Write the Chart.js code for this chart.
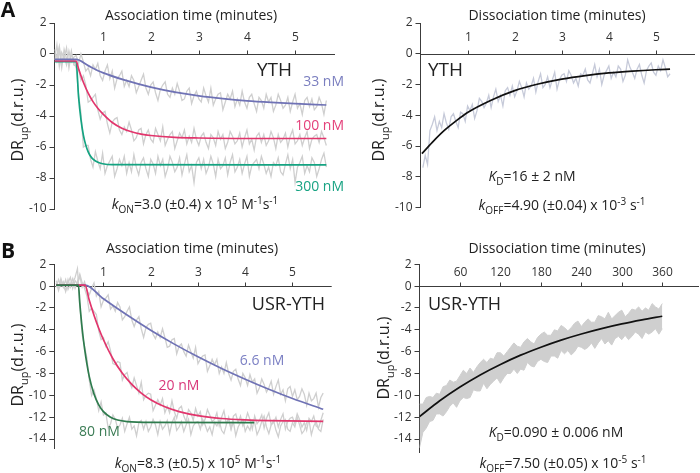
<!DOCTYPE html>
<html><head><meta charset="utf-8">
<script src="https://cdn.jsdelivr.net/npm/chart.js@4.4.1/dist/chart.umd.min.js"></script>
<style>
html,body{margin:0;padding:0;background:#fff;}
#wrap{position:relative;width:700px;height:473px;overflow:hidden;background:#fff;}
#wrap canvas{position:absolute;left:0;top:0;width:700px;height:473px;}
</style></head><body>
<div id="wrap">
<canvas id="cAL" width="700" height="473"></canvas>
<canvas id="cAR" width="700" height="473"></canvas>
<canvas id="cBL" width="700" height="473"></canvas>
<canvas id="cBR" width="700" height="473"></canvas>
</div>
<script>
// ---------------- DATA ----------------
// sampling interval of the recorded traces (minutes)
const assocStep = 0.05;
const dissocStartA = 0.05;
const bandStep = 5;

// Panel A, association (YTH) raw traces, t = 0, 0.05, ... 5.65 min
const aTrace33 = [
0.3,-0.2,0.5,-0.6,-0.1,-0.7,0.2,-0.5,-0.2,
-0.1,-0.6,0.0,-0.5,-1.1,-0.9,-1.4,-0.7,-1.0,-0.6,
-1.4,-1.7,-1.1,-0.7,-1.6,-1.1,-2.2,-1.6,-1.4,-1.1,
-2.1,-1.7,-2.1,-1.4,-1.7,-2.5,-2.1,-1.7,-1.3,-2.2,
-2.6,-2.0,-1.8,-2.5,-3.0,-2.3,-2.0,-1.8,-2.6,-2.8,
-2.2,-2.6,-1.9,-2.4,-3.0,-2.9,-2.4,-2.2,-3.2,-2.7,
-2.4,-2.9,-3.1,-2.2,-2.7,-3.1,-2.2,-3.3,-2.9,-2.6,
-2.5,-3.6,-3.1,-2.6,-2.9,-2.4,-3.4,-2.9,-3.3,-2.4,
-3.1,-3.5,-2.8,-2.6,-3.2,-3.7,-2.8,-3.0,-3.5,-2.6,
-3.1,-2.8,-3.7,-3.3,-2.6,-3.0,-3.5,-3.3,-2.8,-3.7,
-3.1,-2.6,-3.5,-3.2,-3.9,-3.0,-2.8,-3.4,-2.9,-3.6,
-3.4,-2.8,-3.2,-3.9,-3.0];
const aTrace100 = [
-0.4,0.6,-0.8,0.1,-0.3,0.4,-0.9,0.0,-0.4,
-0.9,-1.0,-1.7,-1.4,-2.0,-3.1,-3.0,-2.8,-2.6,-3.6,
-4.2,-3.8,-3.7,-4.5,-5.1,-4.4,-4.2,-4.1,-4.9,-5.2,
-4.7,-5.0,-4.4,-4.9,-5.6,-5.4,-4.9,-4.8,-5.8,-5.2,
-4.9,-5.5,-5.7,-4.8,-5.2,-5.6,-4.7,-5.9,-5.5,-5.2,
-5.0,-6.1,-5.6,-5.1,-5.4,-4.9,-5.8,-5.3,-5.7,-4.8,
-5.5,-5.9,-5.3,-5.1,-5.7,-6.1,-5.2,-5.4,-5.9,-5.0,
-5.5,-5.2,-6.1,-5.7,-5.0,-5.3,-5.8,-5.6,-5.1,-6.0,
-5.4,-4.9,-5.8,-5.5,-6.2,-5.3,-5.1,-5.7,-5.2,-5.9,
-5.6,-5.0,-5.4,-6.1,-5.2,-5.7,-5.5,-5.1,-6.0,-5.3,
-4.9,-5.8,-5.6,-5.2,-5.9,-5.4,-5.0,-6.1,-5.5,-5.3,
-5.2,-5.7,-5.0,-5.4,-5.9];
const aTrace300 = [
0.1,-0.5,0.2,-0.9,0.3,-0.3,-0.6,0.2,-0.7,
-0.8,-2.6,-3.8,-6.0,-5.9,-5.9,-6.8,-7.3,-6.3,-6.9,
-7.4,-6.4,-7.7,-7.2,-6.9,-6.6,-7.9,-7.4,-6.8,-7.2,
-6.6,-7.7,-7.0,-7.6,-6.5,-7.3,-7.8,-7.0,-6.7,-7.4,
-7.9,-6.8,-7.1,-7.7,-6.6,-7.2,-6.8,-7.9,-7.4,-6.6,
-7.0,-7.6,-7.3,-6.7,-7.8,-7.1,-6.5,-7.6,-7.2,-8.3,
-7.0,-6.7,-7.4,-6.8,-7.7,-7.3,-6.6,-7.1,-7.9,-6.8,
-7.4,-7.2,-6.7,-7.8,-7.0,-6.5,-7.6,-7.3,-6.8,-7.7,
-7.1,-6.6,-7.9,-7.2,-7.0,-6.8,-7.4,-6.6,-7.1,-7.7,
-7.3,-7.9,-7.0,-7.2,-6.7,-7.6,-7.8,-7.1,-6.5,-7.4,
-6.8,-8.3,-7.3,-7.0,-6.6,-7.7,-7.2,-7.6,-6.7,-7.0,
-7.9,-7.4,-6.8,-6.4,-7.3];
// Panel A association fits [t(min), DR]
const aFit33 = [[0,-0.35],[0.45,-0.35],[0.7,-0.75],[1,-1.2],[1.5,-1.72],[2,-2.14],[2.5,-2.46],[3,-2.7],[3.5,-2.88],[4,-3.02],[4.5,-3.12],[5,-3.2],[5.65,-3.29]];
const aFit100 = [[0,-0.45],[0.45,-0.45],[0.5,-0.95],[0.6,-1.82],[0.7,-2.52],[0.8,-3.07],[0.9,-3.5],[1.0,-3.85],[1.2,-4.42],[1.4,-4.79],[1.6,-5.02],[1.8,-5.17],[2.0,-5.26],[2.5,-5.38],[3,-5.42],[4,-5.45],[5.65,-5.45]];
const aFit300 = [[0,-0.5],[0.45,-0.5],[0.5,-2.75],[0.55,-4.24],[0.6,-5.23],[0.65,-5.88],[0.7,-6.31],[0.75,-6.6],[0.8,-6.79],[0.9,-6.99],[1.0,-7.08],[1.2,-7.14],[5.65,-7.15]];

// Panel A dissociation (YTH) raw trace, t = 0.05 ... 5.3 min
const aDissTrace = [
-7.4,-6.6,-7.2,-5.0,-4.6,-4.1,-5.0,-4.4,-4.8,-3.9,
-4.5,-4.9,-4.1,-3.9,-4.4,-4.8,-3.8,-3.9,-4.4,-3.4,
-3.7,-3.3,-4.2,-3.7,-2.9,-3.1,-3.5,-3.2,-2.7,-3.5,
-2.8,-2.3,-3.1,-2.7,-3.4,-2.4,-2.2,-2.7,-2.1,-2.8,
-2.4,-1.8,-2.2,-2.8,-1.9,-2.3,-2.1,-1.6,-2.5,-1.8,
-1.3,-2.2,-2.0,-1.5,-2.2,-1.7,-1.2,-2.3,-1.7,-1.4,
-1.3,-1.8,-1.1,-1.4,-1.9,-1.6,-2.1,-1.3,-1.4,-1.0,
-1.7,-1.9,-1.3,-0.7,-1.5,-1.0,-2.0,-1.4,-1.1,-0.8,
-1.6,-1.2,-1.5,-0.8,-1.0,-1.8,-1.4,-0.4,-0.9,-1.2,
-1.6,-1.0,-0.7,-1.4,-1.9,-1.1,-0.8,-0.6,-1.2,-1.4,
-0.8,-1.1,-0.4,-0.9,-1.5,-1.3];
const aDissFit = [[0.03,-6.5],[0.25,-5.76],[0.5,-5.0],[0.75,-4.38],[1,-3.82],[1.5,-3.02],[2,-2.4],[2.5,-1.97],[3,-1.65],[3.5,-1.42],[4,-1.25],[4.5,-1.13],[5,-1.04],[5.3,-1.0]];

// Panel B association (USR-YTH) raw traces, t = 0, 0.05 ... 5.65 min
const bTrace66 = [
-0.1,0.6,0.0,0.4,-0.5,0.3,0.8,-0.2,0.5,0.2,0.9,-0.1,0.4,
-0.4,-0.8,-0.2,0.3,-0.9,-0.5,-1.9,-1.3,-1.1,-0.8,
-2.1,-1.8,-2.3,-1.5,-1.9,-3.1,-2.8,-2.3,-1.9,-3.1,
-3.7,-3.1,-2.8,-3.9,-4.7,-3.8,-3.5,-3.4,-4.4,-4.8,
-4.2,-4.7,-3.9,-4.7,-5.6,-5.5,-4.9,-4.8,-6.2,-5.5,
-5.3,-6.0,-6.4,-5.4,-6.0,-6.6,-5.6,-7.1,-6.7,-6.4,
-6.3,-7.8,-7.3,-6.7,-7.2,-6.7,-8.0,-7.4,-8.0,-7.0,
-8.0,-8.6,-7.8,-7.6,-8.5,-9.1,-8.0,-8.4,-9.1,-8.1,
-8.8,-8.5,-9.8,-9.3,-8.5,-9.0,-9.7,-9.3,-8.7,-9.9,
-9.2,-8.6,-9.9,-9.5,-10.5,-9.4,-9.2,-10.1,-9.5,-10.4,
-10.1,-9.4,-9.9,-10.9,-9.8,-10.5,-10.3,-9.8,-11.1,-10.2,
-9.8];
const bTrace20 = [
0.3,-0.4,0.5,-0.1,0.6,-0.3,0.2,0.7,-0.2,0.4,1.1,0.3,-0.2,
-0.9,-2.3,-2.0,-2.3,-2.6,-4.1,-4.9,-4.7,-5.5,-5.1,
-5.9,-7.1,-7.2,-6.9,-7.0,-8.6,-8.1,-7.9,-8.8,-9.3,
-8.4,-9.1,-9.8,-8.8,-10.4,-10.0,-9.8,-9.9,-11.4,-10.9,
-10.4,-10.9,-10.3,-11.6,-11.0,-11.6,-10.5,-11.5,-12.1,-11.2,
-11.0,-11.9,-12.4,-11.3,-11.6,-12.3,-11.2,-11.9,-11.5,-12.7,
-12.2,-11.3,-11.8,-12.4,-12.2,-11.6,-12.8,-12.0,-11.4,-12.6,
-12.2,-13.1,-11.9,-11.7,-12.5,-11.9,-12.8,-12.4,-11.6,-12.2,
-13.1,-11.9,-12.6,-12.3,-11.8,-13.0,-12.1,-11.6,-12.7,-12.5,
-12.0,-12.9,-12.2,-11.7,-13.1,-12.4,-12.1,-12.0,-12.6,-11.7,
-12.2,-12.9,-12.5,-13.2,-12.1,-12.4,-11.9,-12.8,-13.0,-12.3,
-11.6];
const bTrace80 = [
0.5,-0.2,0.7,0.0,-0.4,0.6,-0.1,0.3,0.8,1.6,
-1.7,-4.5,-5.5,-6.6,-8.6,-10.0,-9.5,-10.3,-11.4,-10.6,
-11.8,-11.6,-13.0,-12.6,-11.8,-12.2,-13.0,-12.7,-12.1,-13.3,
-12.6,-12.0,-13.1,-12.8,-13.7,-12.5,-12.3,-13.1,-12.4,-13.3,
-12.9,-12.2,-12.7,-13.6,-12.4,-13.1,-12.8,-12.3,-13.5,-12.5,
-12.0,-13.2,-12.9,-12.4,-13.3,-12.7,-12.2,-13.6,-12.8,-12.5,
-12.4,-13.1,-12.2,-12.7,-13.3,-12.9,-13.6,-12.5,-12.8,-12.3,
-13.2,-13.5,-12.7,-12.0,-13.1,-12.4,-13.7,-12.9,-12.5,-12.2,
-13.3,-12.8,-13.2,-12.3,-12.5,-13.6,-13.1,-12.4,-11.9,-12.9,
-13.5,-12.7,-12.3,-13.2,-13.8,-12.8,-12.4,-12.2,-13.1,-13.3,
-12.5,-12.9,-12.0,-12.7,-13.5,-13.2,-12.5,-12.3,-13.6,-12.8,
-12.4,-13.1,-13.3,-12.2];
const bFit66 = [[0,0.1],[0.61,0.1],[1.0,-1.16],[1.5,-2.65],[2.0,-4.04],[2.5,-5.31],[3.0,-6.47],[3.5,-7.54],[4.0,-8.52],[4.5,-9.44],[5.0,-10.29],[5.65,-11.28]];
const bFit20 = [[0,0.1],[0.61,0.1],[0.7,-1.3],[0.8,-2.66],[0.9,-3.86],[1.0,-4.91],[1.2,-6.65],[1.4,-7.98],[1.6,-9.0],[1.8,-9.79],[2.0,-10.4],[2.3,-11.05],[2.6,-11.49],[3.0,-11.86],[3.5,-12.12],[4.0,-12.25],[4.5,-12.32],[5.65,-12.39]];
const bFit80 = [[0,0.1],[0.47,0.1],[0.5,-1.58],[0.55,-3.9],[0.6,-5.7],[0.7,-8.29],[0.8,-9.88],[0.9,-10.88],[1.0,-11.49],[1.15,-12.0],[1.3,-12.26],[1.5,-12.4],[2.0,-12.48],[4.19,-12.5]];

// Panel B dissociation (USR-YTH): noisy band edges, t = 0, 5 ... 360 min
const bBandUpper = [
-10.8,-10.8,-10.2,-10.1,-10.2,-9.8,-9.9,-9.2,-9.1,-8.6,
-8.8,-8.7,-8.2,-7.7,-8.0,-7.5,-7.9,-7.4,-7.0,-6.7,
-7.0,-6.6,-6.7,-6.1,-6.1,-6.4,-6.0,-5.6,-5.2,-5.5,
-5.6,-5.1,-4.8,-5.1,-5.3,-4.7,-4.4,-4.2,-4.5,-4.5,
-4.0,-4.1,-3.6,-3.8,-4.1,-3.8,-3.4,-3.2,-3.7,-3.3,
-3.0,-3.3,-3.3,-2.7,-2.8,-3.0,-2.4,-3.0,-2.7,-2.4,
-2.2,-2.8,-2.5,-2.1,-2.2,-1.9,-2.3,-2.0,-2.2,-1.6,
-1.9,-2.1,-1.6];
const bBandLower = [
-14.8,-13.4,-13.0,-12.4,-12.3,-11.7,-11.7,-11.9,-11.5,-11.0,
-10.7,-11.1,-10.5,-10.2,-10.3,-10.2,-9.5,-9.6,-9.6,-8.9,
-9.4,-9.0,-8.7,-8.4,-8.9,-8.4,-8.0,-8.0,-7.6,-8.0,
-7.6,-7.7,-7.0,-7.3,-7.4,-6.9,-6.7,-6.9,-7.0,-6.4,
-6.4,-6.6,-5.9,-6.2,-5.9,-6.3,-6.0,-5.5,-5.6,-5.8,
-5.6,-5.2,-5.7,-5.2,-4.8,-5.3,-5.0,-5.4,-4.8,-4.6,
-4.9,-4.5,-4.9,-4.6,-4.2,-4.4,-4.8,-4.2,-4.4,-4.2,
-3.9,-4.4,-3.9];
const bDissFit = [[0,-11.95],[30,-10.5],[60,-9.24],[90,-8.13],[120,-7.17],[150,-6.32],[180,-5.59],[210,-4.94],[240,-4.38],[270,-3.89],[300,-3.46],[330,-3.09],[360,-2.76]];

// tick values
const yTicksA = [2,0,-2,-4,-6,-8,-10];
const yTicksB = [2,0,-2,-4,-6,-8,-10,-12,-14];
const xTicksMin = [1,2,3,4,5];
const xTicksB360 = [60,120,180,240,300,360];

// ---------------- STYLE ----------------
const FONT = '"Open Sans", "Liberation Sans", sans-serif';
const AXIS_COLOR = '#3c3c3c';
const TICK_COLOR = '#333';
const TRACE_GRAY = '#cfcfcf';
const TRACE_BLUEGRAY = '#c6cad9';
const C_BLUE = '#6f72b5', C_RED = '#e2356c', C_GREEN_A = '#14a381', C_GREEN_B = '#2e7b4d', C_BLACK = '#111';

function withTimes(values, start, step) {
  return values.map((v, i) => ({x: +(start + i * step).toFixed(3), y: v}));
}
function pairs(arr) { return arr.map(p => ({x: p[0], y: p[1]})); }

function trace(values, start, step, color) {
  return {data: withTimes(values, start, step), borderColor: color, borderWidth: 1.3, pointRadius: 0, tension: 0, fill: false};
}
function fitLine(arr, color) {
  return {data: pairs(arr), borderColor: color, borderWidth: 1.7, pointRadius: 0, cubicInterpolationMode: 'monotone', fill: false};
}

function segFont(seg, size) {
  const s = (seg.sub || seg.sup) ? Math.round(size * 0.68) : size;
  return (seg.i ? 'italic ' : '') + (seg.b ? 'bold ' : '') + s + 'px ' + FONT;
}
function drawRich(ctx, item) {
  const size = item.size;
  let total = 0;
  const widths = item.segs.map(seg => { ctx.font = segFont(seg, size); const w = ctx.measureText(seg.t).width; total += w; return w; });
  ctx.save();
  ctx.translate(item.x, item.y);
  if (item.rotate) ctx.rotate(-Math.PI / 2);
  let x = item.align === 'right' ? -total : item.align === 'left' ? 0 : -total / 2;
  const base = size * 0.36;
  ctx.fillStyle = item.color || '#222';
  ctx.textAlign = 'left'; ctx.textBaseline = 'alphabetic';
  item.segs.forEach((seg, k) => {
    ctx.font = segFont(seg, size);
    const dy = seg.sub ? size * 0.3 : seg.sup ? -size * 0.38 : 0;
    ctx.fillText(seg.t, x, base + dy);
    x += widths[k];
  });
  ctx.restore();
}

function deco(spec) {
  return {
    id: 'deco',
    beforeDatasetsDraw(chart) {
      const ctx = chart.ctx, ca = chart.chartArea, xs = chart.scales.x, ys = chart.scales.y;
      const y0 = Math.round(ys.getPixelForValue(0)) + 0.5;
      ctx.save();
      ctx.strokeStyle = AXIS_COLOR; ctx.lineWidth = 1;
      ctx.beginPath(); ctx.moveTo(ca.left, y0); ctx.lineTo(ca.right, y0); ctx.stroke();
      ctx.font = '12px ' + FONT; ctx.fillStyle = TICK_COLOR; ctx.textAlign = 'center'; ctx.textBaseline = 'middle';
      spec.xTicks.forEach(v => {
        const px = Math.round(xs.getPixelForValue(v)) + 0.5;
        ctx.beginPath(); ctx.moveTo(px, y0); ctx.lineTo(px, y0 - 4); ctx.stroke();
        ctx.fillText(String(v), px, spec.xTickLabelY);
      });
      ctx.restore();
    },
    afterDraw(chart) { spec.texts.forEach(t => drawRich(chart.ctx, t)); }
  };
}

function makePanel(id, spec, datasets) {
  const a = spec.area, YW = 40;
  new Chart(document.getElementById(id), {
    type: 'line',
    data: {datasets},
    options: {
      responsive: false, animation: false, devicePixelRatio: 1, events: [],
      layout: {padding: {left: a.left - YW, right: 700 - a.right, top: a.top, bottom: 473 - a.bottom}},
      plugins: {legend: {display: false}, tooltip: {enabled: false}, title: {display: false}},
      scales: {
        x: {type: 'linear', display: false, min: spec.xMin, max: spec.xMax},
        y: {type: 'linear', min: spec.yMin, max: spec.yMax,
          afterBuildTicks: s => { s.ticks = spec.yTicks.map(v => ({value: v})); },
          afterFit: s => { s.width = YW; },
          grid: {drawOnChartArea: false, drawTicks: true, tickLength: 5, tickColor: AXIS_COLOR},
          border: {display: true, color: AXIS_COLOR, width: 1},
          ticks: {font: {family: FONT, size: 12}, color: TICK_COLOR, padding: 3, autoSkip: false, callback: v => String(v)}
        }
      }
    },
    plugins: [deco(spec)]
  });
}

const yTitle = (x, y) => ({segs: [{t: 'DR'}, {t: 'up', sub: 1}, {t: '(d.r.u.)'}], x, y, size: 16, rotate: true, align: 'center', color: '#222'});

// Panel A left
makePanel('cAL', {
  area: {left: 54.5, right: 335, top: 23, bottom: 209},
  xMin: 0, xMax: 5.83, yMin: -10, yMax: 2, yTicks: yTicksA, xTicks: xTicksMin, xTickLabelY: 37.5,
  texts: [
    {segs: [{t: 'A', b: 1}], x: 8, y: 9, size: 21, align: 'center', color: '#111'},
    {segs: [{t: 'Association time (minutes)'}], x: 191, y: 14.5, size: 14, align: 'center'},
    {segs: [{t: 'YTH'}], x: 292, y: 69.5, size: 19, align: 'right'},
    {segs: [{t: '33 nM'}], x: 344, y: 81, size: 14, align: 'right', color: '#7a7ebf'},
    {segs: [{t: '100 nM'}], x: 344, y: 125, size: 14, align: 'right', color: '#e4407a'},
    {segs: [{t: '300 nM'}], x: 344, y: 186, size: 14, align: 'right', color: '#18a383'},
    {segs: [{t: 'k', i: 1}, {t: 'ON', sub: 1}, {t: '=3.0 (±0.4) x 10'}, {t: '5', sup: 1}, {t: ' M'}, {t: '-1', sup: 1}, {t: 's'}, {t: '-1', sup: 1}], x: 195, y: 204, size: 14, align: 'center'},
    yTitle(17, 120)
  ]
}, [
  fitLine(aFit33, C_BLUE), fitLine(aFit100, C_RED), fitLine(aFit300, C_GREEN_A),
  trace(aTrace33, 0, assocStep, TRACE_GRAY), trace(aTrace100, 0, assocStep, TRACE_GRAY), trace(aTrace300, 0, assocStep, TRACE_GRAY)
]);

// Panel A right
makePanel('cAR', {
  area: {left: 420.5, right: 695, top: 23, bottom: 207.5},
  xMin: 0, xMax: 5.83, yMin: -10, yMax: 2, yTicks: yTicksA, xTicks: xTicksMin, xTickLabelY: 37.5,
  texts: [
    {segs: [{t: 'Dissociation time (minutes)'}], x: 557, y: 14.5, size: 14, align: 'center'},
    {segs: [{t: 'YTH'}], x: 428, y: 69.5, size: 19, align: 'left'},
    {segs: [{t: 'K', i: 1}, {t: 'D', sub: 1}, {t: '=16 ± 2 nM'}], x: 532, y: 176, size: 14, align: 'center'},
    {segs: [{t: 'k', i: 1}, {t: 'OFF', sub: 1}, {t: '=4.90 (±0.04) x 10'}, {t: '-3', sup: 1}, {t: ' s'}, {t: '-1', sup: 1}], x: 562, y: 205, size: 14, align: 'center'},
    yTitle(378, 120)
  ]
}, [
  fitLine(aDissFit, C_BLACK),
  trace(aDissTrace, dissocStartA, assocStep, TRACE_BLUEGRAY)
]);

// Panel B left
makePanel('cBL', {
  area: {left: 54.3, right: 331.7, top: 264.3, bottom: 448.3},
  xMin: -0.04, xMax: 5.83, yMin: -14.85, yMax: 2, yTicks: yTicksB, xTicks: xTicksMin, xTickLabelY: 272.5,
  texts: [
    {segs: [{t: 'B', b: 1}], x: 8, y: 250, size: 21, align: 'center', color: '#111'},
    {segs: [{t: 'Association time (minutes)'}], x: 192, y: 248, size: 14, align: 'center'},
    {segs: [{t: 'USR-YTH'}], x: 325, y: 304, size: 18, align: 'right'},
    {segs: [{t: '6.6 nM'}], x: 262, y: 360, size: 14, align: 'center', color: '#7c80c4'},
    {segs: [{t: '20 nM'}], x: 179, y: 385, size: 14, align: 'center', color: '#d8387a'},
    {segs: [{t: '80 nM'}], x: 99.5, y: 431, size: 14, align: 'center', color: '#3b7c55'},
    {segs: [{t: 'k', i: 1}, {t: 'ON', sub: 1}, {t: '=8.3 (±0.5) x 10'}, {t: '5', sup: 1}, {t: ' M'}, {t: '-1', sup: 1}, {t: 's'}, {t: '-1', sup: 1}], x: 198, y: 463, size: 14, align: 'center'},
    yTitle(17, 365)
  ]
}, [
  fitLine(bFit80, C_GREEN_B), fitLine(bFit20, C_RED), fitLine(bFit66, C_BLUE),
  trace(bTrace66, 0, assocStep, TRACE_GRAY), trace(bTrace20, 0, assocStep, TRACE_GRAY), trace(bTrace80, 0, assocStep, TRACE_GRAY)
]);

// Panel B right
makePanel('cBR', {
  area: {left: 419.5, right: 699, top: 264.3, bottom: 452},
  xMin: 0, xMax: 414.5, yMin: -15.19, yMax: 2, yTicks: yTicksB, xTicks: xTicksB360, xTickLabelY: 272.5,
  texts: [
    {segs: [{t: 'Dissociation time (minutes)'}], x: 557, y: 248, size: 14, align: 'center'},
    {segs: [{t: 'USR-YTH'}], x: 428, y: 303.5, size: 18, align: 'left'},
    {segs: [{t: 'K', i: 1}, {t: 'D', sub: 1}, {t: '=0.090 ± 0.006 nM'}], x: 556, y: 432, size: 14, align: 'center'},
    {segs: [{t: 'k', i: 1}, {t: 'OFF', sub: 1}, {t: '=7.50 (±0.05) x 10'}, {t: '-5', sup: 1}, {t: ' s'}, {t: '-1', sup: 1}], x: 563, y: 463, size: 14, align: 'center'},
    yTitle(383, 358)
  ]
}, [
  fitLine(bDissFit, C_BLACK),
  Object.assign(trace(bBandUpper, 0, bandStep, TRACE_GRAY), {fill: '+1', backgroundColor: TRACE_GRAY, borderWidth: 1}),
  Object.assign(trace(bBandLower, 0, bandStep, TRACE_GRAY), {borderWidth: 1})
]);
</script>
</body></html>
